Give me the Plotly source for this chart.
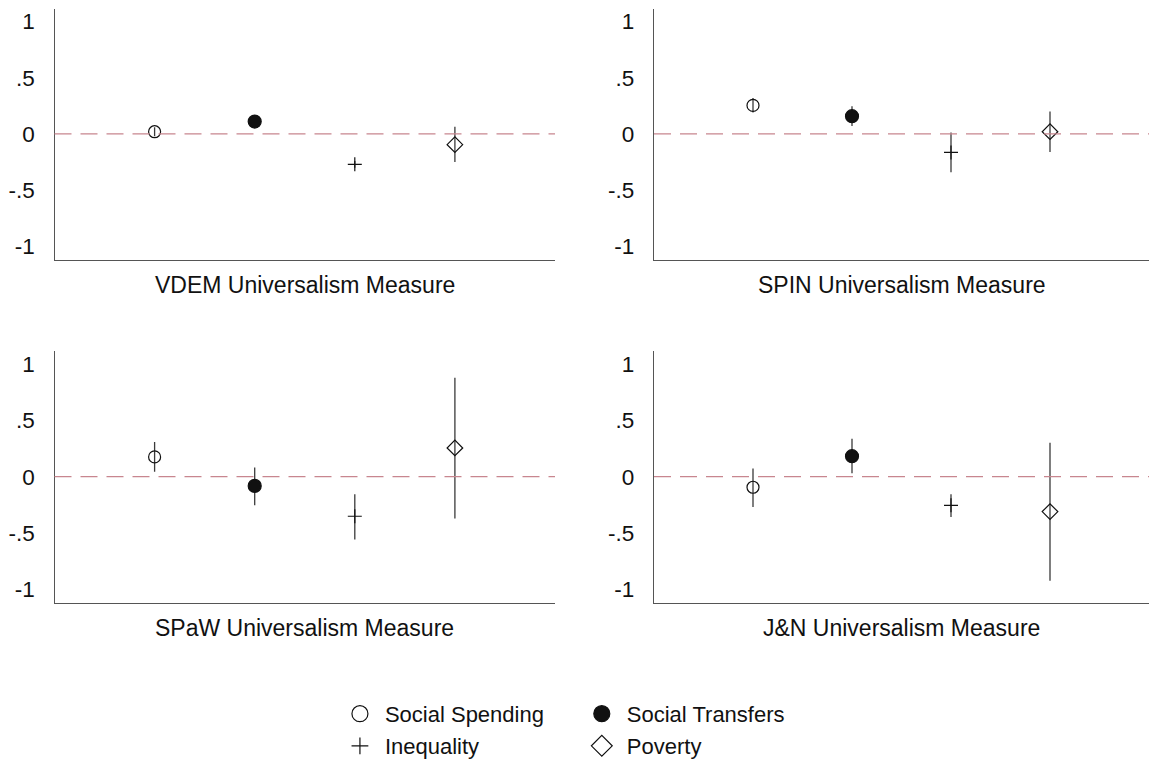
import plotly.graph_objects as go

# Outcomes, plotted at x = 1..4 in every panel
outcomes = ["Social Spending", "Social Transfers", "Inequality", "Poverty"]
outcome_x = [1, 2, 3, 4]

# Universalism measures (one panel each)
measures = ["VDEM Universalism Measure", "SPIN Universalism Measure",
            "SPaW Universalism Measure", "J&N Universalism Measure"]

# Point estimates and confidence bounds, one list per measure (order = outcomes)
vdem_est = [0.02, 0.11, -0.27, -0.095]
vdem_lo = [-0.02, 0.07, -0.30, -0.25]
vdem_hi = [0.06, 0.15, -0.24, 0.065]

spin_est = [0.254, 0.158, -0.164, 0.02]
spin_lo = [0.19, 0.07, -0.34, -0.16]
spin_hi = [0.319, 0.246, 0.012, 0.20]

spaw_est = [0.175, -0.082, -0.351, 0.254]
spaw_lo = [0.044, -0.254, -0.556, -0.371]
spaw_hi = [0.307, 0.082, -0.155, 0.877]

jn_est = [-0.094, 0.181, -0.254, -0.31]
jn_lo = [-0.269, 0.029, -0.357, -0.923]
jn_hi = [0.073, 0.336, -0.155, 0.301]

y_tick_vals = [1, 0.5, 0, -0.5, -1]
y_tick_text = ["1", ".5", "0", "-.5", "-1"]

panels = [
    (vdem_est, vdem_lo, vdem_hi),
    (spin_est, spin_lo, spin_hi),
    (spaw_est, spaw_lo, spaw_hi),
    (jn_est, jn_lo, jn_hi),
]

W, H = 1149, 767
FONT = "Liberation Sans, Arial, Helvetica, sans-serif"
INK = "#111111"
BAR = "#3a3a3a"
AXIS = "#555555"

symbols = ["circle-open", "circle", "cross-thin-open", "diamond-open"]
sizes = [12, 13, 10, 12]

# Plot-area boxes in pixels: (left, right, top, bottom)
boxes = [
    (54.5, 555, 9.3, 263.3),
    (654, 1149, 9.3, 263.3),
    (54.5, 555, 356, 611),
    (654, 1149, 356, 611),
]

fig = go.Figure()

for p, ((est, lo, hi), box) in enumerate(zip(panels, boxes)):
    ax = "" if p == 0 else str(p + 1)
    for k in range(4):
        fig.add_trace(go.Scatter(
            x=[outcome_x[k]], y=[est[k]],
            xaxis="x" + ax, yaxis="y" + ax,
            mode="markers",
            marker=dict(symbol=symbols[k], size=sizes[k], color=INK,
                        line=dict(color=INK, width=1.2)),
            error_y=dict(type="data", symmetric=False,
                         array=[hi[k] - est[k]], arrayminus=[est[k] - lo[k]],
                         color=BAR, thickness=1.3, width=0),
            showlegend=False, hoverinfo="skip",
        ))
    l, r, t, b = box
    xd = [l / W, r / W]
    yd = [1 - b / H, 1 - t / H]
    fig.layout["xaxis" + ax] = dict(
        domain=xd, range=[0, 5], anchor="y" + ax,
        showgrid=False, zeroline=False, showticklabels=False, ticks="",
        showline=True, linecolor=AXIS, linewidth=1.3,
    )
    fig.layout["yaxis" + ax] = dict(
        domain=yd, range=[-1.12, 1.11], anchor="x" + ax,
        showgrid=False, zeroline=False, ticks="",
        tickvals=y_tick_vals, ticktext=y_tick_text,
        tickfont=dict(family=FONT, size=22.5, color=INK),
        ticklabelstandoff=14,
        showline=True, linecolor=AXIS, linewidth=1.3,
    )
    # reference line at zero
    fig.add_shape(type="line", xref="x" + ax + " domain", yref="y" + ax,
                  x0=0, x1=1, y0=0, y1=0,
                  line=dict(color="#c8868f", width=1.3, dash="17px,9px"))
    # panel caption under the x axis
    fig.add_annotation(text=measures[p], xref="x" + ax + " domain",
                       yref="y" + ax + " domain", x=0.5, y=0, yshift=-25,
                       xanchor="center", yanchor="middle", showarrow=False,
                       font=dict(family=FONT, size=23, color=INK))

# Legend: two columns, two rows, one legend box per entry
legend_pos = [(0.2915, 0.057), (0.502, 0.057), (0.2915, 0.014), (0.502, 0.014)]
legend_names = ["legend", "legend2", "legend3", "legend4"]
for k in range(4):
    fig.add_trace(go.Scatter(
        x=[None], y=[None], mode="markers", name=outcomes[k],
        marker=dict(symbol=symbols[k], size=16 if k != 2 else 12, color=INK,
                    line=dict(color=INK, width=1.2)),
        legend=legend_names[k], showlegend=True,
    ))
    lx, ly = legend_pos[k]
    fig.layout[legend_names[k]] = dict(
        x=lx, y=ly, xanchor="left", yanchor="middle",
        font=dict(family=FONT, size=22, color=INK),
        bgcolor="rgba(0,0,0,0)", itemwidth=40,
    )

fig.update_layout(
    width=W, height=H,
    margin=dict(l=0, r=0, t=0, b=0),
    paper_bgcolor="white", plot_bgcolor="white",
    font=dict(family=FONT, color=INK),
)

fig.write_html("out.html")
